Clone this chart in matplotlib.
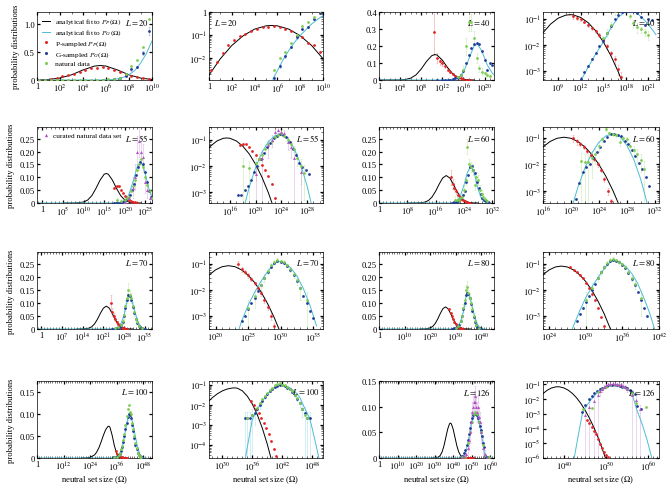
import matplotlib

matplotlib.use("Agg")
import matplotlib.pyplot as plt
from matplotlib.lines import Line2D
from matplotlib.ticker import FixedLocator, FuncFormatter, NullFormatter
import numpy as np

plt.rcParams["font.family"] = ["Liberation Serif", "DejaVu Serif"]
plt.rcParams["mathtext.fontset"] = "stix"

C_P = "#e32424"
C_G = "#203c96"
C_NAT = "#7dcc52"
C_CUR = "#b455c4"
C_FITP = "black"
C_FITG = "#4cbcd6"

# all x values are log10 of the neutral set size

# ---- L = 20
pfit_20_x = [0, 1, 2, 3, 4, 5, 5.5, 6, 7, 8, 9, 10]
pfit_20_y = [0.0018, 0.0093, 0.035, 0.093, 0.18, 0.25, 0.26, 0.25, 0.18, 0.093, 0.035, 0.0093]
gfit_20_x = [0, 2, 4, 5.6, 6, 6.5, 7, 7.5, 8, 8.5, 9, 9.5, 10]
gfit_20_y = [0, 0, 0, 0.0012, 0.0028, 0.0085, 0.021, 0.048, 0.095, 0.17, 0.30, 0.47, 0.70]
p_20_x = [0.2, 0.7, 1.2, 1.7, 2.2, 2.7, 3.2, 3.7, 4.2, 4.7, 5.2, 5.7, 6.2, 6.7, 7.2, 7.7, 8.2, 8.7, 9.2, 9.7]
p_20_y = [0.003, 0.0068, 0.016, 0.036, 0.063, 0.088, 0.114, 0.145, 0.184, 0.22, 0.22, 0.24, 0.22, 0.18,
          0.145, 0.093, 0.08, 0.047, 0.035, 0.018]
g_20_x = [5.7, 6.2, 6.7, 7.2, 7.7, 8.2, 8.7, 9.2, 9.7]
g_20_y = [0.0014, 0.0045, 0.012, 0.030, 0.08, 0.19, 0.23, 0.48, 0.88]
g_20_err = [0.0003, 0.001, 0.002, 0.004, 0.01, 0.02, 0.02, 0.04, 0.07]
n_20_x = [0.2, 0.7, 1.2, 1.7, 2.2, 2.7, 3.2, 3.7, 4.2, 4.7, 5.2, 5.7, 6.2, 6.7, 7.2, 7.7, 8.2, 8.7, 9.2, 9.7]
n_20_y = [0, 0, 0, 0, 0, 0, 0, 0, 0, 0, 0, 0.003, 0.0095, 0.019, 0.044, 0.10, 0.25, 0.36, 0.60, 1.1]

# ---- L = 40
pfit_40_x = [0, 4, 5, 6, 7, 8, 9, 10, 10.6, 11, 12, 13, 14, 15, 16, 17, 18]
pfit_40_y = [0, 0.00064, 0.003, 0.0107, 0.0297, 0.0644, 0.109, 0.143, 0.15, 0.147, 0.117, 0.073,
             0.0354, 0.0133, 0.0039, 0.0009, 0.00016]
gfit_40_x = [0, 10, 12, 13, 14, 15, 16, 17, 18, 18.7, 19.5, 20.5, 21.5, 22]
gfit_40_y = [0, 0, 0.0004, 0.0014, 0.0045, 0.013, 0.045, 0.12, 0.2, 0.21, 0.17, 0.09, 0.04, 0.025]
p_40_x = [10.5, 11, 11.5, 12, 12.5, 13, 13.5, 14, 14.5, 15, 15.5, 16, 16.5, 17, 17.3]
p_40_y = [0.28, 0.13, 0.11, 0.10, 0.08, 0.06, 0.045, 0.034, 0.024, 0.016, 0.009, 0.005, 0.0028, 0.0012, 0.0006]
p_40_err = [0.13, 0.03, 0.02, 0.015, 0.01, 0.008, 0.006, 0.005, 0.004, 0.003, 0.002, 0.001, 0.001,
            0.0005, 0.0003]
g_40_x = [11, 12, 12.5, 13, 13.5, 14, 14.5, 15, 15.5, 16, 16.5, 17, 17.5, 18, 18.5, 19, 19.5, 20, 20.5, 21, 21.5]
g_40_y = [0.0002, 0.0005, 0.0009, 0.0015, 0.0028, 0.005, 0.009, 0.0145, 0.03, 0.055, 0.1, 0.15, 0.19,
          0.21, 0.215, 0.21, 0.17, 0.12, 0.06, 0.1, 0.09]
n_40_x = [15, 15.5, 16, 16.5, 17, 17.5, 18, 18.5, 19, 19.5, 20, 20.5, 21]
n_40_y = [0.018, 0.03, 0.06, 0.2, 0.34, 0.34, 0.25, 0.13, 0.07, 0.05, 0.04, 0.032, 0.025]
n_40_err = [0.005, 0.01, 0.02, 0.05, 0.05, 0.05, 0.04, 0.03, 0.02, 0.02, 0.01, 0.01, 0.01]

# ---- L = 55
pfit_55_x = [5, 8, 10, 11, 12, 13, 14, 15, 15.5, 16, 17, 18, 19, 20, 21, 22, 23, 24]
pfit_55_y = [0, 0.00019, 0.0037, 0.0116, 0.0287, 0.0566, 0.089, 0.112, 0.115, 0.112, 0.089, 0.0566,
             0.0287, 0.0116, 0.0037, 0.00095, 0.00019, 0.000032]
gfit_55_x = [-2, 10, 17, 18, 19, 20, 21, 22, 23, 23.8, 24.5, 25, 26, 27, 28, 28.6, 29]
gfit_55_y = [0, 0, 0.000013, 0.000175, 0.0015, 0.0085, 0.033, 0.083, 0.14, 0.16, 0.141, 0.111, 0.0466,
             0.0117, 0.0018, 0.00045, 0.00016]
p_55_x = [17.5, 18, 18.5, 19, 19.5, 20, 20.5, 21, 21.5, 22, 22.5, 23]
p_55_y = [0.06, 0.065, 0.068, 0.052, 0.038, 0.027, 0.018, 0.011, 0.0068, 0.0042, 0.002, 0.0006]
g_55_x = [17.3, 17.8, 18.3, 18.8, 19.3, 19.8, 20.3, 20.8, 21.3, 21.8, 22.3, 22.8, 23.3, 23.8, 24.3,
          24.8, 25.3, 25.8, 26.3, 26.8, 27.3, 27.8, 28.3]
g_55_y = [0.0008, 0.0008, 0.0012, 0.0018, 0.003, 0.006, 0.01, 0.018, 0.03, 0.05, 0.075, 0.11, 0.14,
          0.16, 0.15, 0.12, 0.08, 0.045, 0.025, 0.013, 0.009, 0.007, 0.005]
n_55_x = [18, 19, 20, 20.5, 21, 21.5, 22, 22.5, 23, 23.5, 24, 24.5, 25, 25.5, 26, 26.5, 27, 27.5]
n_55_y = [0.01, 0.008, 0.013, 0.018, 0.025, 0.045, 0.065, 0.09, 0.13, 0.15, 0.17, 0.14, 0.1, 0.07,
          0.045, 0.02, 0.01, 0.0055]
n_55_err = [0.01, 0.008, 0.01, 0.01, 0.01, 0.015, 0.02, 0.02, 0.02, 0.02, 0.02, 0.02, 0.02, 0.015,
            0.01, 0.01, 0.008, 0.005]
c_55_x = [20, 21, 22, 22.5, 23, 23.5, 24, 24.5, 25, 25.5, 26, 27]
c_55_y = [0.005, 0.02, 0.06, 0.1, 0.2, 0.24, 0.2, 0.18, 0.08, 0.05, 0.02, 0.006]
c_55_err = [0.005, 0.02, 0.04, 0.05, 0.06, 0.06, 0.05, 0.05, 0.04, 0.03, 0.02, 0.006]

# ---- L = 60
pfit_60_x = [8, 10, 12, 13, 14, 15, 16, 17, 18, 19, 20, 21, 22, 23, 24, 25, 26, 27, 28]
pfit_60_y = [0, 0.00005, 0.00104, 0.00356, 0.01, 0.0236, 0.0457, 0.0733, 0.0974, 0.107, 0.0974, 0.0733,
             0.0457, 0.0236, 0.01, 0.00356, 0.00104, 0.00025, 0.00005]
gfit_60_x = [0, 15, 20, 21, 22, 23, 24, 25, 26, 27, 28, 29, 30, 31, 31.5]
gfit_60_y = [0, 0, 0.00018, 0.0014, 0.0074, 0.027, 0.069, 0.12, 0.145, 0.113, 0.053, 0.0153, 0.00266,
             0.00028, 0.000075]
p_60_x = [20.3, 20.8, 21.3, 21.8, 22.3, 22.8, 23.3, 23.8, 24.3, 24.8, 25.3, 25.7]
p_60_y = [0.1, 0.075, 0.06, 0.045, 0.032, 0.023, 0.016, 0.01, 0.006, 0.0028, 0.001, 0.0004]
p_60_err = [0.03, 0.02, 0.01, 0.008, 0.006, 0.004, 0.003, 0.002, 0.001, 0.0006, 0.0003, 0.0001]
g_60_x = [20.7, 21.2, 21.7, 22.2, 22.7, 23.2, 23.7, 24.2, 24.7, 25.2, 25.7, 26.2, 26.7, 27.2, 27.7,
          28.2, 28.7, 29.2, 29.7, 30.2, 30.7, 31.2]
g_60_y = [0.0005, 0.002, 0.005, 0.008, 0.01, 0.018, 0.03, 0.045, 0.08, 0.11, 0.14, 0.145, 0.13, 0.115,
          0.08, 0.06, 0.035, 0.02, 0.011, 0.007, 0.0035, 0.0015]
n_60_x = [21.5, 22, 22.5, 23, 23.5, 24, 24.5, 25, 25.5, 26, 26.5, 27, 27.5, 28, 28.5, 29, 29.5, 30, 30.5]
n_60_y = [0.013, 0.012, 0.012, 0.018, 0.025, 0.05, 0.09, 0.22, 0.15, 0.14, 0.13, 0.07, 0.10, 0.09,
          0.05, 0.035, 0.025, 0.015, 0.007]
n_60_err = [0.013, 0.012, 0.012, 0.015, 0.015, 0.02, 0.02, 0.03, 0.02, 0.02, 0.02, 0.02, 0.02, 0.02,
            0.02, 0.015, 0.015, 0.01, 0.007]

# ---- L = 70
pfit_70_x = [12, 14, 16, 17, 18, 19, 20, 21, 22, 23, 24, 25, 26, 27, 28, 29, 30, 31]
pfit_70_y = [0, 0.00021, 0.0029, 0.0083, 0.0194, 0.0376, 0.0603, 0.080, 0.088, 0.080, 0.0603, 0.0376,
             0.0194, 0.0083, 0.0029, 0.00085, 0.00021, 0.000041]
gfit_70_x = [-2, 18, 23, 24, 25, 26, 27, 28, 29, 29.6, 30.5, 31.5, 32.5, 33.5, 34.5, 35.5]
gfit_70_y = [0, 0, 0.0001, 0.0006, 0.0025, 0.008, 0.022, 0.052, 0.105, 0.13, 0.115, 0.075, 0.035,
             0.011, 0.0025, 0.0004]
p_70_x = [23.5, 24, 24.5, 25, 25.5, 26, 26.5, 27, 27.5, 28, 28.5, 29]
p_70_y = [0.1, 0.065, 0.05, 0.038, 0.027, 0.018, 0.012, 0.0075, 0.0042, 0.0022, 0.001, 0.0004]
p_70_err = [0.03, 0.015, 0.01, 0.008, 0.005, 0.003, 0.002, 0.0015, 0.001, 0.0005, 0.0003, 0.0001]
g_70_x = [24, 24.5, 25, 25.5, 26, 26.5, 27, 27.5, 28, 28.5, 29, 29.5, 30, 30.5, 31, 31.5, 32, 32.5,
          33, 33.5, 34, 34.5, 35]
g_70_y = [0.0006, 0.001, 0.0018, 0.003, 0.005, 0.009, 0.016, 0.028, 0.05, 0.08, 0.11, 0.13, 0.125,
          0.11, 0.085, 0.06, 0.038, 0.022, 0.012, 0.006, 0.003, 0.0015, 0.0008]
n_70_x = [25, 26, 27, 27.5, 28, 28.5, 29, 29.5, 30, 30.5, 31, 31.5, 32, 32.5, 33, 34]
n_70_y = [0.002, 0.006, 0.015, 0.03, 0.055, 0.09, 0.12, 0.15, 0.13, 0.12, 0.09, 0.065, 0.04, 0.025,
          0.012, 0.004]
n_70_err = [0.002, 0.004, 0.008, 0.01, 0.015, 0.02, 0.02, 0.025, 0.02, 0.02, 0.015, 0.015, 0.01,
            0.01, 0.008, 0.004]

# ---- L = 80
pfit_80_x = [16, 18, 20, 21, 22, 23, 24, 25, 26, 27, 28, 29, 30, 31, 32, 33, 34, 35, 36]
pfit_80_y = [0, 0.00032, 0.0037, 0.0097, 0.0212, 0.0389, 0.06, 0.078, 0.085, 0.078, 0.06, 0.0389,
             0.0212, 0.0097, 0.0037, 0.0012, 0.00032, 0.000074, 0.000014]
gfit_80_x = [0, 20, 27, 28, 29, 30, 31, 32, 33, 34, 34.5, 35.5, 36.5, 37.5, 38.5, 39.5, 40.5, 41.5]
gfit_80_y = [0, 0, 0.0001, 0.0004, 0.0015, 0.005, 0.013, 0.03, 0.065, 0.12, 0.14, 0.125, 0.085, 0.045,
             0.018, 0.005, 0.0012, 0.0002]
p_80_x = [27.5, 28, 28.5, 29, 29.5, 30, 30.5, 31, 31.5, 32, 32.5, 33]
p_80_y = [0.075, 0.062, 0.05, 0.038, 0.028, 0.019, 0.012, 0.007, 0.004, 0.002, 0.0009, 0.0004]
g_80_x = [28.5, 29, 29.5, 30, 30.5, 31, 31.5, 32, 32.5, 33, 33.5, 34, 34.5, 35, 35.5, 36, 36.5, 37,
          37.5, 38, 38.5, 39, 39.5, 40]
g_80_y = [0.0006, 0.0012, 0.002, 0.0035, 0.006, 0.01, 0.017, 0.03, 0.05, 0.075, 0.1, 0.13, 0.14,
          0.135, 0.12, 0.095, 0.07, 0.045, 0.027, 0.015, 0.008, 0.004, 0.002, 0.001]
n_80_x = [30, 31, 32, 32.5, 33, 33.5, 34, 34.5, 35, 35.5, 36, 36.5, 37, 37.5, 38, 39]
n_80_y = [0.004, 0.012, 0.03, 0.05, 0.08, 0.11, 0.15, 0.16, 0.14, 0.12, 0.1, 0.075, 0.05, 0.03, 0.017, 0.005]
n_80_err = [0.004, 0.006, 0.01, 0.012, 0.015, 0.02, 0.02, 0.025, 0.02, 0.02, 0.015, 0.012, 0.01,
            0.008, 0.006, 0.004]

# ---- L = 100
pfit_100_x = [20, 22, 24, 26, 27, 28, 29, 30, 31, 32, 32.5, 33, 34, 35, 36, 37, 38, 39, 40]
pfit_100_y = [0.000012, 0.00016, 0.0013, 0.0069, 0.0134, 0.0234, 0.0365, 0.051, 0.0635, 0.071, 0.072,
              0.0693, 0.051, 0.0274, 0.011, 0.0032, 0.00068, 0.000106, 0.000012]
gfit_100_x = [0, 30, 34.6, 35.3, 36, 37, 38, 39, 40, 41, 41.7, 42.5, 43.5, 44.5, 45.5, 46.5, 47.5, 48,
              48.7, 49.4]
gfit_100_y = [0, 0, 0.00002, 0.0002, 0.0018, 0.006, 0.015, 0.035, 0.062, 0.088, 0.1, 0.095, 0.075,
              0.048, 0.025, 0.007, 0.0022, 0.0007, 0.00012, 0.00002]
p_100_x = [35.8, 36.3, 36.8, 37.3, 37.8, 38.3, 38.8, 39.3, 39.8, 40.3, 40.7]
p_100_y = [0.016, 0.01, 0.0062, 0.0037, 0.0021, 0.0012, 0.00065, 0.00035, 0.00016, 0.00006, 0.000025]
g_100_x = [34.5, 35, 35.5, 36, 36.5, 37, 37.5, 38, 38.5, 39, 39.5, 40, 40.5, 41, 41.5, 42, 42.5, 43,
           43.5, 44, 44.5, 45, 45.5, 46, 46.5, 47, 47.5]
g_100_y = [0.0022, 0.0022, 0.0022, 0.003, 0.004, 0.006, 0.01, 0.0155, 0.025, 0.036, 0.05, 0.065, 0.08,
           0.092, 0.1, 0.098, 0.09, 0.075, 0.06, 0.045, 0.03, 0.02, 0.012, 0.0065, 0.004, 0.0022, 0.0022]
g_100_err = [0.0022, 0.0022, 0.0022, 0.003, 0.003, 0.003, 0.004, 0.004, 0.005, 0.005, 0.005, 0.005,
             0.005, 0.005, 0.005, 0.005, 0.005, 0.005, 0.005, 0.005, 0.005, 0.004, 0.004, 0.004, 0.004,
             0.0022, 0.0022]
n_100_x = [35, 36, 37, 37.5, 38, 38.5, 39, 39.5, 40, 40.5, 41, 41.5, 42, 42.5, 43, 43.5, 44, 44.5, 45,
           45.5, 46, 46.5, 47]
n_100_y = [0.0022, 0.003, 0.007, 0.012, 0.02, 0.028, 0.04, 0.055, 0.075, 0.095, 0.11, 0.12, 0.105,
           0.1, 0.08, 0.065, 0.05, 0.033, 0.022, 0.012, 0.006, 0.003, 0.0022]

# ---- L = 126
pfit_126_x = [28, 30, 32, 33, 34, 35, 36, 37, 38, 38.5, 39, 40, 41, 42, 43, 44, 45, 46, 47, 48, 49, 50]
pfit_126_y = [0.0000046, 0.00013, 0.0017, 0.0049, 0.0117, 0.0234, 0.0395, 0.0559, 0.0665, 0.068,
              0.0665, 0.0559, 0.0395, 0.0234, 0.0117, 0.0049, 0.0017, 0.00051, 0.00013, 0.000027,
              0.0000046, 0.00000068]
gfit_126_x = [0, 40, 42.4, 43.4, 44.4, 45.5, 46.5, 48, 50, 52, 54, 56, 57.2, 58.5, 59.6, 60.8]
gfit_126_y = [0, 0, 0.000001, 0.00004, 0.0013, 0.004, 0.01, 0.03, 0.07, 0.09, 0.07, 0.03, 0.002,
              0.0002, 0.00002, 0.000001]
p_126_x = [45.5, 46, 46.5, 47, 47.5, 48, 48.5, 49, 49.5, 50, 50.5]
p_126_y = [0.0004, 0.00025, 0.00013, 0.00007, 0.00004, 0.00002, 0.000009, 0.000005, 0.0000025,
           0.0000015, 0.0000011]
g_126_x = [44.2, 45, 46, 46.6, 47.2, 47.8, 48.4, 49, 49.6, 50.2, 50.8, 51.4, 52, 52.6, 53.2, 53.8,
           54.4, 55, 55.6, 56.2, 56.8, 57.4, 58.2]
g_126_y = [0.0013, 0.004, 0.01, 0.015, 0.025, 0.035, 0.046, 0.058, 0.07, 0.078, 0.083, 0.085, 0.085,
           0.083, 0.078, 0.07, 0.062, 0.055, 0.042, 0.03, 0.021, 0.0035, 0.002]
n_126_x = [44.5, 46.6, 48, 49, 50, 51, 52, 53, 54, 55, 56, 57, 59.4]
n_126_y = [0.002, 0.0025, 0.03, 0.05, 0.07, 0.085, 0.09, 0.085, 0.07, 0.05, 0.025, 0.0058, 0.0027]
c_126_x = [45, 46, 47, 48, 48.5, 49, 49.5, 50, 50.5, 51, 51.5, 52, 52.5, 53, 53.5, 54, 54.5, 55, 56, 57, 58]
c_126_y = [0.0008, 0.003, 0.0075, 0.02, 0.035, 0.05, 0.07, 0.09, 0.1, 0.11, 0.12, 0.11, 0.1, 0.09,
           0.1, 0.08, 0.07, 0.05, 0.02, 0.008, 0.002]
c_126_err = [0.0008, 0.003, 0.0075, 0.02, 0.02, 0.02, 0.02, 0.02, 0.02, 0.02, 0.02, 0.02, 0.02, 0.02,
             0.02, 0.02, 0.02, 0.02, 0.02, 0.008, 0.002]

DATA = {
    20: (pfit_20_x, pfit_20_y, gfit_20_x, gfit_20_y, p_20_x, p_20_y, g_20_x, g_20_y, n_20_x, n_20_y, None, None),
    40: (pfit_40_x, pfit_40_y, gfit_40_x, gfit_40_y, p_40_x, p_40_y, g_40_x, g_40_y, n_40_x, n_40_y, None, None),
    55: (pfit_55_x, pfit_55_y, gfit_55_x, gfit_55_y, p_55_x, p_55_y, g_55_x, g_55_y, n_55_x, n_55_y, c_55_x, c_55_y),
    60: (pfit_60_x, pfit_60_y, gfit_60_x, gfit_60_y, p_60_x, p_60_y, g_60_x, g_60_y, n_60_x, n_60_y, None, None),
    70: (pfit_70_x, pfit_70_y, gfit_70_x, gfit_70_y, p_70_x, p_70_y, g_70_x, g_70_y, n_70_x, n_70_y, None, None),
    80: (pfit_80_x, pfit_80_y, gfit_80_x, gfit_80_y, p_80_x, p_80_y, g_80_x, g_80_y, n_80_x, n_80_y, None, None),
    100: (pfit_100_x, pfit_100_y, gfit_100_x, gfit_100_y, p_100_x, p_100_y, g_100_x, g_100_y,
          n_100_x, n_100_y, None, None),
    126: (pfit_126_x, pfit_126_y, gfit_126_x, gfit_126_y, p_126_x, p_126_y, g_126_x, g_126_y,
          n_126_x, n_126_y, c_126_x, c_126_y),
}

# error bars: L -> list of (x, y, err, colour)
ERRORS = {
    20: [(g_20_x, g_20_y, g_20_err, C_G)],
    40: [(p_40_x, p_40_y, p_40_err, C_P), (n_40_x, n_40_y, n_40_err, C_NAT)],
    55: [(n_55_x, n_55_y, n_55_err, C_NAT), (c_55_x, c_55_y, c_55_err, C_CUR)],
    60: [(p_60_x, p_60_y, p_60_err, C_P), (n_60_x, n_60_y, n_60_err, C_NAT)],
    70: [(p_70_x, p_70_y, p_70_err, C_P), (n_70_x, n_70_y, n_70_err, C_NAT)],
    80: [(n_80_x, n_80_y, n_80_err, C_NAT)],
    100: [(g_100_x, g_100_y, g_100_err, C_FITG)],
    126: [(c_126_x, c_126_y, c_126_err, C_CUR)],
}

# panel settings: (L, log_y, xlim, xticks, ylim, yticks, ytick labels)
LIN_TICKS = ["0", "0.05", "0.10", "0.15", "0.20", "0.25"]
PANELS = [
    (20, False, (0, 10), range(0, 11, 2), (0, 1.22), [0, 0.5, 1.0], ["0", "0.5", "1.0"]),
    (20, True, (0, 10), range(0, 11, 2), (1.1e-3, 1.0), [1e-2, 1e-1, 1], None),
    (40, False, (0, 21.8), range(0, 21, 4), (0, 0.4), [0, 0.1, 0.2, 0.3, 0.4], ["0", "0.1", "0.2", "0.3", "0.4"]),
    (40, True, (7, 22.4), range(9, 22, 3), (4.4e-4, 0.19), [1e-3, 1e-2, 1e-1], None),
    (55, False, (-1.3, 26.6), range(0, 26, 5), (0, 0.296), [0, 0.05, 0.1, 0.15, 0.2, 0.25], LIN_TICKS),
    (55, True, (12.75, 30.5), range(16, 29, 4), (3.9e-4, 0.3), [1e-3, 1e-2, 1e-1], None),
    (60, False, (0, 32.5), range(0, 33, 8), (0, 0.296), [0, 0.05, 0.1, 0.15, 0.2, 0.25], LIN_TICKS),
    (60, True, (16, 32.6), range(16, 33, 4), (3.5e-4, 0.26), [1e-3, 1e-2, 1e-1], None),
    (70, False, (-1.5, 37.5), range(0, 36, 7), (0, 0.296), [0, 0.05, 0.1, 0.15, 0.2, 0.25], LIN_TICKS),
    (70, True, (19, 36.5), range(20, 36, 5), (3e-4, 0.3), [1e-3, 1e-2, 1e-1], None),
    (80, False, (0, 45), range(0, 41, 10), (0, 0.296), [0, 0.05, 0.1, 0.15, 0.2, 0.25], LIN_TICKS),
    (80, True, (23, 42), range(24, 43, 6), (3e-4, 0.3), [1e-3, 1e-2, 1e-1], None),
    (100, False, (0, 52), range(0, 49, 12), (0, 0.174), [0, 0.05, 0.1, 0.15], ["0", "0.05", "0.10", "0.15"]),
    (100, True, (27.3, 50.2), range(30, 49, 6), (2.1e-5, 0.16), [1e-4, 1e-3, 1e-2, 1e-1], None),
    (126, False, (0, 62), range(0, 61, 10), (0, 0.15), [0, 0.05, 0.1, 0.15], ["0", "0.05", "0.10", "0.15"]),
    (126, True, (35, 62.5), range(40, 61, 10), (1e-6, 0.167), [1e-6, 1e-5, 1e-4, 1e-3, 1e-2, 1e-1], None),
]

COL_EDGES = [(37, 152), (209, 323), (379, 494), (543, 659)]
ROW_EDGES = [(13, 81), (128, 204), (253, 330), (382, 459)]
W, H = 668, 485
FS = 6.2
LEG_FS = 5.3


def power_fmt(value, pos):
    k = int(round(np.log10(value)))
    return "1" if k == 0 else r"$10^{%d}$" % k


def draw(ax, x, y, log_y, **kw):
    x = np.asarray(x, dtype=float)
    y = np.asarray(y, dtype=float)
    if log_y:
        keep = y > 0
        x, y = x[keep], y[keep]
    ax.plot(10.0 ** x, y, **kw)


fig = plt.figure(figsize=(W / 100, H / 100), dpi=100)

for i, (L, log_y, xlim, xticks, ylim, yticks, ylabels) in enumerate(PANELS):
    row, col = divmod(i, 4)
    left, right = COL_EDGES[col]
    top, bottom = ROW_EDGES[row]
    ax = fig.add_axes([left / W, 1 - bottom / H, (right - left) / W, (bottom - top) / H])
    ax.set_xscale("log")
    if log_y:
        ax.set_yscale("log")

    for ex, ey, err, ecol in ERRORS.get(L, []):
        ax.errorbar(10.0 ** np.asarray(ex), ey, yerr=err, fmt="none", ecolor=ecol, alpha=0.35,
                    elinewidth=0.5, capsize=0.8, capthick=0.4, zorder=1)

    pfx, pfy, gfx, gfy, px, py, gx, gy, nx, ny, cx, cy = DATA[L]
    draw(ax, pfx, pfy, log_y, color=C_FITP, lw=0.7, zorder=2)
    draw(ax, gfx, gfy, log_y, color=C_FITG, lw=0.7, zorder=2)
    ms = 2.0
    draw(ax, px, py, log_y, ls="none", marker="o", ms=ms, mew=0, color=C_P, zorder=3)
    draw(ax, gx, gy, log_y, ls="none", marker="o", ms=ms, mew=0, color=C_G, zorder=3)
    draw(ax, nx, ny, log_y, ls="none", marker="o", ms=ms, mew=0, color=C_NAT, zorder=4)
    if cx is not None:
        draw(ax, cx, cy, log_y, ls="none", marker="^", ms=2.2, mew=0, color=C_CUR, zorder=4)

    ax.set_xlim(10.0 ** xlim[0], 10.0 ** xlim[1])
    ax.set_ylim(*ylim)
    ax.xaxis.set_major_locator(FixedLocator([10.0 ** k for k in xticks]))
    ax.xaxis.set_major_formatter(FuncFormatter(power_fmt))
    minor = [10.0 ** k for k in range(int(np.floor(xlim[0])), int(np.ceil(xlim[1])) + 1)]
    ax.xaxis.set_minor_locator(FixedLocator(minor))
    ax.xaxis.set_minor_formatter(NullFormatter())
    ax.yaxis.set_major_locator(FixedLocator(yticks))
    if log_y:
        ax.yaxis.set_major_formatter(FuncFormatter(power_fmt))
    else:
        ax.set_yticklabels(ylabels)
    ax.tick_params(which="both", direction="in", top=True, right=True, labelsize=FS, pad=1.5)
    ax.tick_params(which="major", length=2.5, width=0.9)
    ax.tick_params(which="minor", length=1.2, width=0.4)
    for spine in ax.spines.values():
        spine.set_linewidth(0.5)

    if i == 1:
        ax.text(0.04, 0.93, r"$L = %d$" % L, transform=ax.transAxes, fontsize=FS, ha="left", va="top")
    else:
        ax.text(0.97, 0.93, r"$L = %d$" % L, transform=ax.transAxes, fontsize=FS, ha="right", va="top")

    if col == 0:
        ax.set_ylabel("probability distributions", fontsize=FS, labelpad=3)
    if row == 3:
        ax.set_xlabel(r"neutral set size ($\Omega$)", fontsize=FS, labelpad=1)

    if i == 0:
        handles = [
            Line2D([], [], color=C_FITP, lw=0.7),
            Line2D([], [], color=C_FITG, lw=0.7),
            Line2D([], [], ls="none", marker="o", ms=2.2, mew=0, color=C_P),
            Line2D([], [], ls="none", marker="o", ms=2.2, mew=0, color=C_G),
            Line2D([], [], ls="none", marker="o", ms=2.2, mew=0, color=C_NAT),
        ]
        labels = [
            r"analytical fit to $P_P(\Omega)$",
            r"analytical fit to $P_G(\Omega)$",
            r"P-sampled $P_P(\Omega)$",
            r"G-sampled $P_G(\Omega)$",
            "natural data",
        ]
        ax.legend(handles, labels, loc="upper left", frameon=False, fontsize=LEG_FS, handlelength=1.0,
                  handletextpad=0.8, borderaxespad=0.3, labelspacing=0.2)
    if i == 4:
        handle = Line2D([], [], ls="none", marker="^", ms=2.4, mew=0, color=C_CUR)
        ax.legend([handle], ["curated natural data set"], loc="upper left", frameon=False, fontsize=LEG_FS,
                  handlelength=1.0, handletextpad=0.5, borderaxespad=0.3)

fig.savefig("out.png", dpi=100)
